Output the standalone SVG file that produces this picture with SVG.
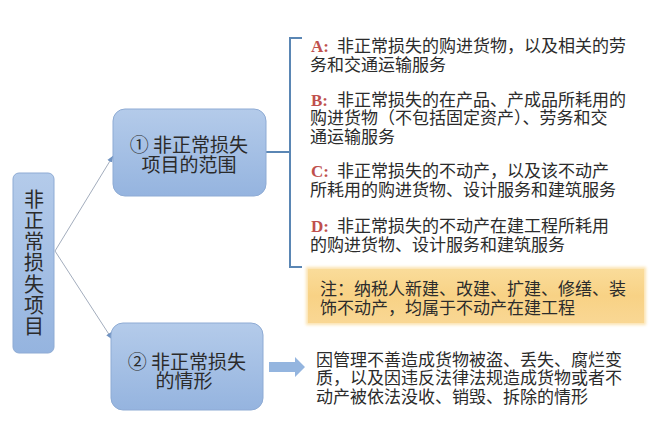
<svg xmlns="http://www.w3.org/2000/svg" width="659" height="431" viewBox="0 0 659 431">
<style>
.cjk{font-family:'Noto Sans CJK SC','Noto Sans',sans-serif;fill:#2b2b2b}
.body{font-size:17px}
.node{font-size:19px;text-anchor:middle}
.root{font-size:20px;text-anchor:middle}
.tag{font-family:'Liberation Serif',serif;font-weight:bold;font-size:17px;fill:#c0504d}
.box{fill:url(#blue);stroke:#8eabd4;stroke-width:1}
.conn{fill:none;stroke:#a3adbd;stroke-width:1}
.brk{fill:none;stroke:#5a86b4;stroke-width:2}
</style>
<defs>
<linearGradient id="blue" x1="0" y1="0" x2="0" y2="1">
<stop offset="0" stop-color="#b4cbea"/>
<stop offset="1" stop-color="#95b4df"/>
</linearGradient>
<linearGradient id="note" x1="0" y1="0" x2="0" y2="1">
<stop offset="0" stop-color="#fadc9a"/>
<stop offset="0.5" stop-color="#f8d285"/>
<stop offset="1" stop-color="#f9d794"/>
</linearGradient>
<filter id="soft" x="-5%" y="-20%" width="110%" height="140%">
<feGaussianBlur stdDeviation="1.5"/>
</filter>
<marker id="arr" viewBox="0 0 10 10" refX="9" refY="5" markerWidth="7" markerHeight="7" orient="auto-start-reverse" markerUnits="userSpaceOnUse">
<path d="M0,1 L10,5 L0,9 z" fill="#7093c2"/>
</marker>
</defs>
<rect width="659" height="431" fill="#ffffff"/>

<g id="connectors">
<line class="conn" x1="55" y1="251" x2="113" y2="156" marker-end="url(#arr)"/>
<line class="conn" x1="55" y1="251" x2="112" y2="339" marker-end="url(#arr)"/>
<path class="brk" d="M266,152 H290 M302,38 H290 V267 H302"/>
<path d="M269,362 H295 V357 L305,367 L295,377 V372 H269 z" fill="#94b5df"/>
</g>

<g id="root">
<rect class="box" x="13" y="173" width="41" height="180" rx="6"/>
<text class="cjk root" x="34" y="206.5">非</text>
<text class="cjk root" x="34" y="227.8">正</text>
<text class="cjk root" x="34" y="249.1">常</text>
<text class="cjk root" x="34" y="270.4">损</text>
<text class="cjk root" x="34" y="291.7">失</text>
<text class="cjk root" x="34" y="313">项</text>
<text class="cjk root" x="34" y="334.3">目</text>
</g>

<g id="node1">
<rect class="box" x="113" y="109" width="153" height="87" rx="12"/>
<text class="cjk node" x="189" y="152">① 非正常损失</text>
<text class="cjk node" x="189" y="172">项目的范围</text>
</g>

<g id="node2">
<rect class="box" x="111" y="323" width="152" height="87" rx="12"/>
<text class="cjk node" x="187" y="369">② 非正常损失</text>
<text class="cjk node" x="184" y="388">的情形</text>
</g>

<g id="itemA">
<text class="tag" x="311" y="51.5">A:</text>
<text class="cjk body" x="337" y="51.5">非正常损失的购进货物，以及相关的劳</text>
<text class="cjk body" x="310" y="70.5">务和交通运输服务</text>
</g>

<g id="itemB">
<text class="tag" x="311" y="105.5">B:</text>
<text class="cjk body" x="337" y="105.5">非正常损失的在产品、产成品所耗用的</text>
<text class="cjk body" x="310" y="124">购进货物（不包括固定资产）、劳务和交</text>
<text class="cjk body" x="310" y="142.5">通运输服务</text>
</g>

<g id="itemC">
<text class="tag" x="311" y="177">C:</text>
<text class="cjk body" x="337" y="177">非正常损失的不动产，以及该不动产</text>
<text class="cjk body" x="310" y="196">所耗用的购进货物、设计服务和建筑服务</text>
</g>

<g id="itemD">
<text class="tag" x="311" y="231.5">D:</text>
<text class="cjk body" x="337" y="231.5">非正常损失的不动产在建工程所耗用</text>
<text class="cjk body" x="310" y="250.5">的购进货物、设计服务和建筑服务</text>
</g>

<g id="note">
<rect x="306" y="267" width="340" height="58" fill="#fbe3b0" filter="url(#soft)"/>
<rect x="308" y="269" width="336" height="54" fill="url(#note)"/>
<text class="cjk body" x="320" y="294.5">注：纳税人新建、改建、扩建、修缮、装</text>
<text class="cjk body" x="320" y="314">饰不动产，均属于不动产在建工程</text>
</g>

<g id="situation">
<text class="cjk body" x="316" y="365.5">因管理不善造成货物被盗、丢失、腐烂变</text>
<text class="cjk body" x="316" y="384">质，以及因违反法律法规造成货物或者不</text>
<text class="cjk body" x="316" y="402.5">动产被依法没收、销毁、拆除的情形</text>
</g>
</svg>
